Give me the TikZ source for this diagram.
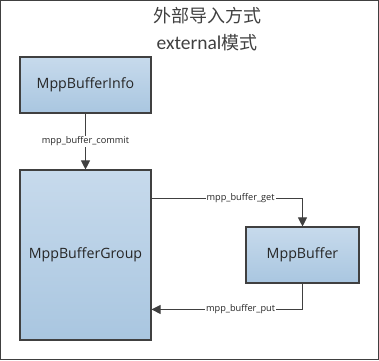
\documentclass[tikz,border=0pt]{standalone}
\usepackage{fontspec}
\setmainfont{Open Sans}
\newfontfamily\cjkfont{Noto Sans CJK SC}
\newfontfamily\calfont{Carlito}
\usetikzlibrary{arrows.meta,calc}
\definecolor{boxtop}{HTML}{C7DAEC}
\definecolor{boxbot}{HTML}{A9C6E0}
\definecolor{edge}{HTML}{404040}
\tikzset{
  box/.style={draw=edge, line width=1.1pt, top color=boxtop, bottom color=boxbot,
    minimum width=131pt, inner sep=0pt, font=\fontsize{14.2}{16}\selectfont, text=black!85},
  conn/.style={draw=edge, line width=0.9pt},
  arr/.style={conn, -{Triangle[width=9pt,length=9pt]}},
  lbl/.style={fill=white, inner sep=1pt, font=\fontsize{9.2}{11}\selectfont, text=black!85},
  title/.style={font=\fontsize{18}{21}\selectfont, text=black!75}
}
\begin{document}
\begin{tikzpicture}[x=1pt,y=1pt]
\useasboundingbox (0,0) rectangle (379,-360);
\draw[edge, line width=1pt] (0.5,-0.5) rectangle (378.5,-359.5);
\node[title] (t1) at (207,-16) {\cjkfont 外部导入方式};
\node[title] (t2) at (207,-43) {\calfont\fontsize{19.5}{21}\selectfont external\cjkfont\fontsize{18}{21}\selectfont 模式};
\node[box, minimum height=56pt] (info) at (85.5,-85) {MppBufferInfo};
\node[box, minimum height=170pt] (group) at (85.5,-255) {MppBufferGroup};
\node[box, minimum width=113pt, minimum height=56pt] (buf) at (302.5,-255) {MppBuffer};
\coordinate (g1) at ($(group.north east)+(0,-29)$);
\coordinate (g2) at ($(group.north east)+(0,-140)$);
\coordinate (c1) at (buf.north |- g1);
\coordinate (c2) at (buf.south |- g2);
\draw[arr] (info.south) -- node[lbl, pos=0.5] (lc) {mpp\_buffer\_commit} (group.north);
\draw[arr] (g1) -- node[lbl, pos=0.59] (lg) {mpp\_buffer\_get} (c1) -- (buf.north);
\draw[arr] (buf.south) -- (c2) -- node[lbl, pos=0.41] (lp) {mpp\_buffer\_put} (g2);
\end{tikzpicture}
\end{document}
